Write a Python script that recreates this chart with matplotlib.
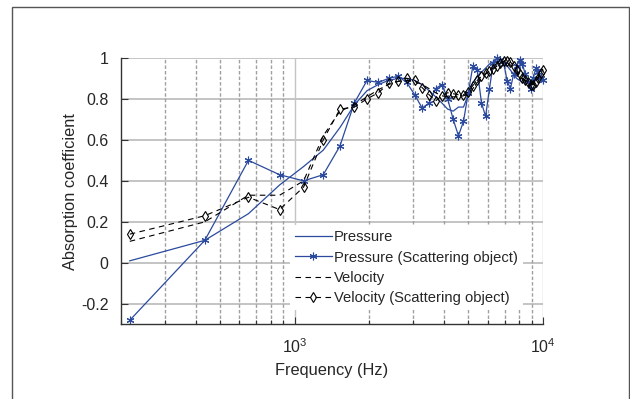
import matplotlib.pyplot as plt
from matplotlib.patches import Rectangle
from matplotlib.ticker import FixedLocator, NullFormatter

plt.rcParams['font.family'] = ['Liberation Sans', 'DejaVu Sans']
plt.rcParams['mathtext.fontset'] = 'custom'
plt.rcParams['mathtext.rm'] = 'Liberation Sans'

# frequency bins (Hz)
freq = [217, 435, 652, 870, 1087, 1304, 1522, 1739, 1957, 2174,
        2391, 2609, 2826, 3043, 3261, 3478, 3696, 3913, 4130, 4348,
        4565, 4783, 5000, 5217, 5435, 5652, 5870, 6087, 6304, 6522,
        6739, 6957, 7174, 7391, 7609, 7826, 8043, 8261, 8478, 8696,
        8913, 9130, 9348, 9565, 9783, 10000]

pressure = [0.01, 0.11, 0.24, 0.38, 0.47, 0.55, 0.66, 0.77, 0.84, 0.87,
            0.89, 0.90, 0.90, 0.89, 0.87, 0.84, 0.81, 0.78, 0.75, 0.74,
            0.76, 0.76, 0.82, 0.88, 0.91, 0.93, 0.95, 0.97, 0.98, 0.985,
            0.98, 0.97, 0.96, 0.94, 0.92, 0.90, 0.89, 0.88, 0.88, 0.89,
            0.88, 0.88, 0.89, 0.90, 0.90, 0.89]

pressure_scat = [-0.28, 0.11, 0.50, 0.43, 0.40, 0.43, 0.57, 0.78, 0.89, 0.88,
                 0.90, 0.91, 0.88, 0.82, 0.755, 0.78, 0.85, 0.87, 0.80, 0.70,
                 0.62, 0.69, 0.83, 0.96, 0.94, 0.78, 0.715, 0.85, 0.975, 1.0,
                 0.99, 0.97, 0.885, 0.85, 0.92, 0.96, 0.99, 0.97, 0.92, 0.88,
                 0.85, 0.90, 0.95, 0.93, 0.90, 0.89]

velocity = [0.105, 0.20, 0.33, 0.33, 0.40, 0.62, 0.74, 0.77, 0.81, 0.845,
            0.87, 0.885, 0.89, 0.885, 0.87, 0.85, 0.83, 0.815, 0.81, 0.81,
            0.81, 0.815, 0.825, 0.85, 0.88, 0.90, 0.92, 0.94, 0.95, 0.965,
            0.975, 0.98, 0.975, 0.965, 0.95, 0.93, 0.91, 0.895, 0.885, 0.875,
            0.87, 0.875, 0.89, 0.91, 0.93, 0.945]

velocity_scat = [0.14, 0.23, 0.32, 0.26, 0.37, 0.60, 0.75, 0.76, 0.80, 0.83,
                 0.875, 0.885, 0.90, 0.89, 0.855, 0.82, 0.79, 0.815, 0.83, 0.825,
                 0.82, 0.82, 0.835, 0.865, 0.89, 0.91, 0.925, 0.935, 0.945, 0.96,
                 0.975, 0.985, 0.985, 0.98, 0.96, 0.94, 0.92, 0.90, 0.89, 0.88,
                 0.87, 0.87, 0.88, 0.90, 0.925, 0.94]

yticks = [-0.2, 0, 0.2, 0.4, 0.6, 0.8, 1]
ytick_labels = ['-0.2', '0', '0.2', '0.4', '0.6', '0.8', '1']
minor_freqs = [200, 300, 400, 500, 600, 700, 800, 900,
               2000, 3000, 4000, 5000, 6000, 7000, 8000, 9000]

blue = '#2b4a9e'
txt = '#262626'

fig = plt.figure(figsize=(6.3, 3.99), dpi=100)
# outer frame around the figure
fig.patches.append(Rectangle((12 / 630, -0.05), 617 / 630, 1.05 - 7 / 399,
                             transform=fig.transFigure, fill=False,
                             edgecolor='#555555', linewidth=1.0))

ax = fig.add_axes([0.192, 0.187, 0.670, 0.668])

ax.plot(freq, pressure, color=blue, lw=0.9, label='Pressure', clip_on=False)
ax.plot(freq, pressure_scat, color=blue, lw=0.9, marker=(6, 2, 0), ms=5.5,
        mew=0.8, label='Pressure (Scattering object)', clip_on=False)
ax.plot(freq, velocity, color='black', lw=0.8, ls=(0, (5, 4)),
        label='Velocity', clip_on=False)
ax.plot(freq, velocity_scat, color='black', lw=0.8, ls=(0, (5, 4)), marker='d',
        ms=5.5, mfc='none', mec='black', mew=0.8,
        label='Velocity (Scattering object)', clip_on=False)

ax.set_xscale('log')
ax.set_xlim(200, 10000)
ax.set_ylim(-0.3, 1)
ax.set_yticks(yticks)
ax.set_yticklabels(ytick_labels)
ax.xaxis.set_major_locator(FixedLocator([1000, 10000]))
ax.xaxis.set_minor_locator(FixedLocator(minor_freqs))
ax.xaxis.set_minor_formatter(NullFormatter())

# grid: solid horizontal, dashed vertical at minor ticks
for y in yticks:
    ax.axhline(y, color='#c4c4c4', lw=1.4, zorder=0)
for f in minor_freqs[1:]:
    ax.axvline(f, color='#a0a0a0', lw=1.0, ls=(0, (2.5, 1.5)), zorder=0)
ax.axvline(1000, color='#c4c4c4', lw=1.0, zorder=0)
ax.axvline(10000, color='#c4c4c4', lw=1.0, zorder=0)

for s in ['top', 'right']:
    ax.spines[s].set_visible(False)
for s in ['left', 'bottom']:
    ax.spines[s].set_color('#333333')
    ax.spines[s].set_linewidth(1.0)

ax.tick_params(which='major', direction='in', length=5, width=0.8,
               colors='#333333', labelcolor=txt, labelsize=11.5, pad=9)
ax.tick_params(which='minor', direction='in', length=3, width=0.8,
               colors='#333333')

ax.set_xlabel('Frequency (Hz)', fontsize=11.8, color=txt, labelpad=5)
ax.set_ylabel('Absorption coefficient', fontsize=11.8, color=txt, labelpad=2)

leg = ax.legend(loc='upper left', bbox_to_anchor=(0.460, 0.436),
                bbox_transform=fig.transFigure, borderaxespad=0,
                fontsize=10.6, frameon=True, fancybox=False, framealpha=1,
                edgecolor='none', handlelength=2.5, handletextpad=0.15,
                labelspacing=0.43, borderpad=0.35)
leg.set_zorder(5)
for t in leg.get_texts():
    t.set_color(txt)

fig.savefig('out.png', dpi=100)
